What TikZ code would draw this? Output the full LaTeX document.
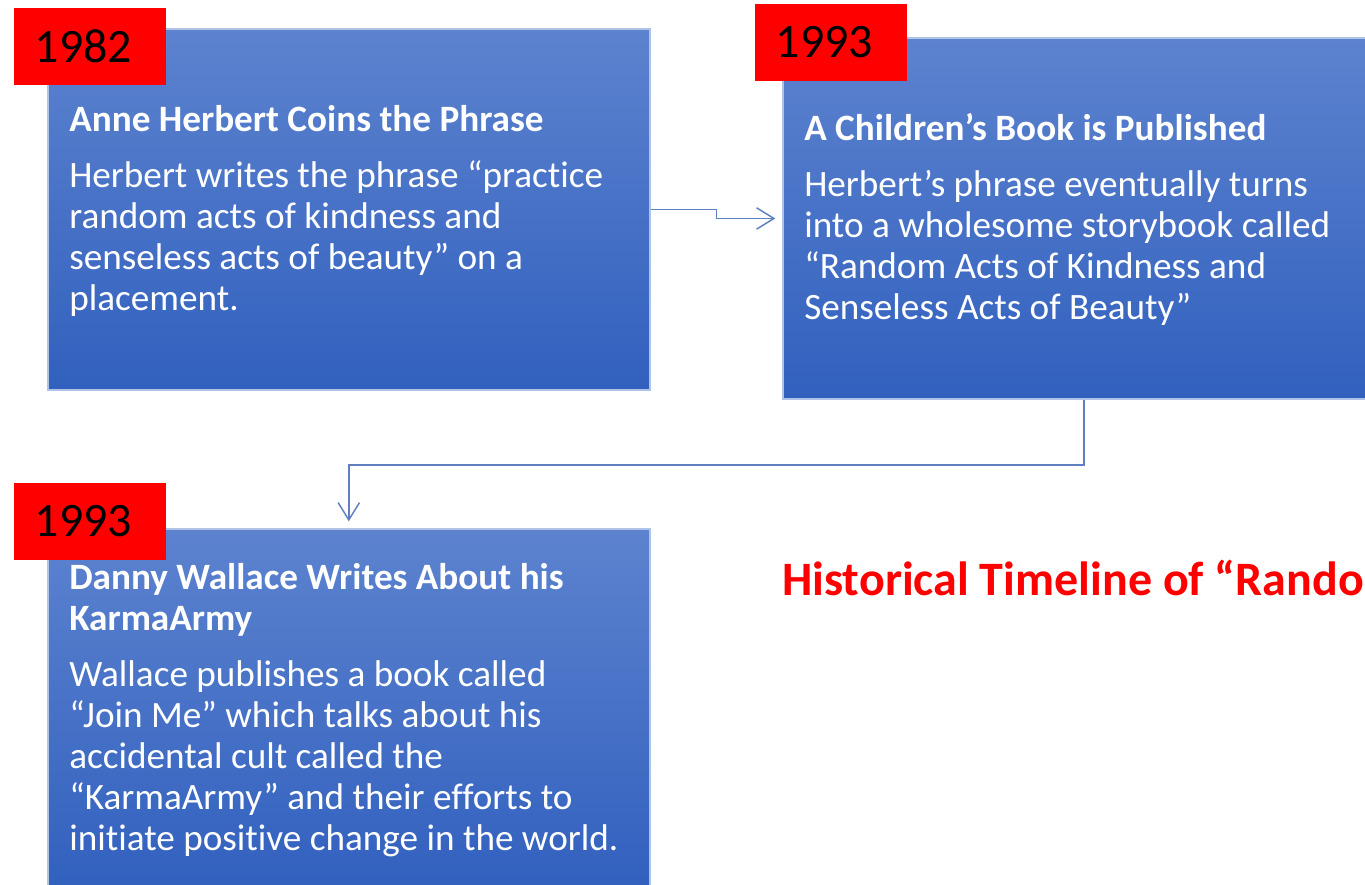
\documentclass[tikz,border=0pt]{standalone}
\usepackage{fontspec}
\setmainfont[Ligatures=NoCommon]{Carlito}
\usetikzlibrary{positioning,arrows.meta}
\definecolor{boxTop}{RGB}{93,131,207}
\definecolor{boxBottom}{RGB}{49,96,190}
\definecolor{boxEdge}{RGB}{175,195,230}
\definecolor{lineBlue}{RGB}{95,128,192}
\newcommand{\bodySize}{\fontsize{27.9}{30.75}\selectfont}
\newcommand{\yearSize}{\fontsize{36}{40}\selectfont}
\newcommand{\titleSize}{\fontsize{36}{42}\selectfont}

\begin{document}
\begin{tikzpicture}[x=0.75pt,y=-0.75pt]
  \tikzset{
    event box/.style={anchor=north west,minimum width=451.5pt,minimum height=271pt,inner sep=0pt,
      top color=boxTop,bottom color=boxBottom,draw=boxEdge,line width=1.2pt},
    year tag/.style={fill=red,minimum height=57.75pt,text width=83pt,inner xsep=15.5pt,inner ysep=0pt,
      align=left,font=\yearSize,text=black},
    heading/.style={anchor=base west,align=left,inner sep=0pt,font=\bodySize\bfseries,text=white},
    body text/.style={anchor=base west,align=left,inner sep=0pt,font=\bodySize,text=white},
    link/.style={draw=lineBlue,line width=1.1pt,shorten >=5pt,-{Straight Barb[length=13pt,width=16pt]}}
  }
  \useasboundingbox (0,0) rectangle (1365,885);
  \clip (0,0) rectangle (1365,885);
  % boxes
  \node[event box] (box-1) at (47,28) {};
  \node[event box] (box-2) at (782,37) {};
  \node[event box] (box-3) at (47,528) {};
  % years
  \node[year tag] (year-1) at (90,46.5) {1982};
  \node[year tag] (year-2) at (831,42.5) {1993};
  \node[year tag] (year-3) at (90,521) {1993};
  % texts (base = last line)
  \node[heading] (head-1) at (69,131) {Anne Herbert Coins the Phrase};
  \node[body text] (text-1) at (69,310) {Herbert writes the phrase “practice\\random acts of kindness and\\senseless acts of beauty” on a\\placement.};
  \node[heading] (head-2) at (804,140) {A Children’s Book is Published};
  \node[body text] (text-2) at (804,319) {Herbert’s phrase eventually turns\\into a wholesome storybook called\\“Random Acts of Kindness and\\Senseless Acts of Beauty”};
  \node[heading] (head-3) at (69,630) {Danny Wallace Writes About his\\KarmaArmy};
  \node[body text] (text-3) at (69,850) {Wallace publishes a book called\\“Join Me” which talks about his\\accidental cult called the\\“KarmaArmy” and their efforts to\\initiate positive change in the world.};
  \node[anchor=base west,inner sep=0pt,font=\titleSize\bfseries,text=red] (title) at (782,595) {Historical Timeline of “Rando};
  % links
  \draw[link] (box-1.east) -- ++(66,0) |- (box-2.west);
  \draw[link] (box-2.south) -- ++(0,65) -| (box-3.north);
\end{tikzpicture}
\end{document}
